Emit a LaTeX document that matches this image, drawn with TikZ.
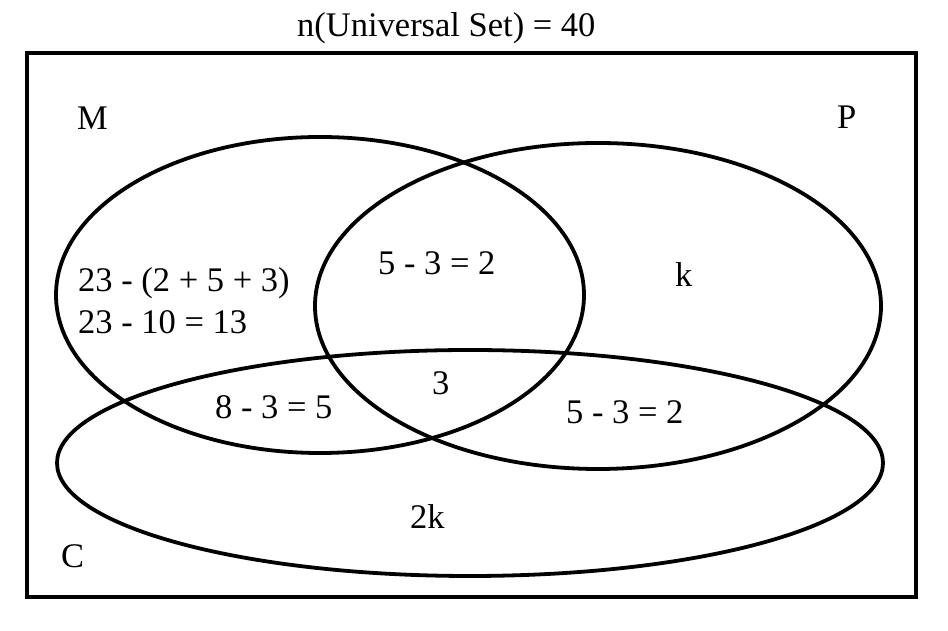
\documentclass[tikz,border=0pt]{standalone}
\usepackage{fontspec}
\setmainfont{Liberation Serif}
\usepackage{tikz}

\begin{document}
\begin{tikzpicture}[x=1pt,y=1pt,
  universe/.style={draw=black,line width=4pt},
  setring/.style={draw=black,line width=3.8pt},
  lbl/.style={anchor=base west,inner sep=0pt,font=\fontsize{34.5}{40}\selectfont}]
\useasboundingbox (0,0) rectangle (948,631);
\draw[universe] (27,578) rectangle (916,34);
\draw[setring] (320,336) ellipse [x radius=264,y radius=158];
\draw[setring] (598,325) ellipse [x radius=283,y radius=163];
\draw[setring] (470,168) ellipse [x radius=413,y radius=113];
\node[lbl] (title) at (297,594) {n(Universal Set) = 40};
\node[lbl] (setM) at (77,501) {M};
\node[lbl] (setP) at (837,502) {P};
\node[lbl] (setC) at (61,63) {C};
\node[lbl] (onlyMa) at (78,339) {23 - (2 + 5 + 3)};
\node[lbl] (onlyMb) at (78,297) {23 - 10 = 13};
\node[lbl] (MP) at (378,356) {5 - 3 = 2};
\node[lbl] (onlyP) at (675,344) {k};
\node[lbl] (MPC) at (432,236) {3};
\node[lbl] (MC) at (215,212) {8 - 3 = 5};
\node[lbl] (PC) at (566,207) {5 - 3 = 2};
\node[lbl] (onlyC) at (410,102) {2k};
\end{tikzpicture}
\end{document}
